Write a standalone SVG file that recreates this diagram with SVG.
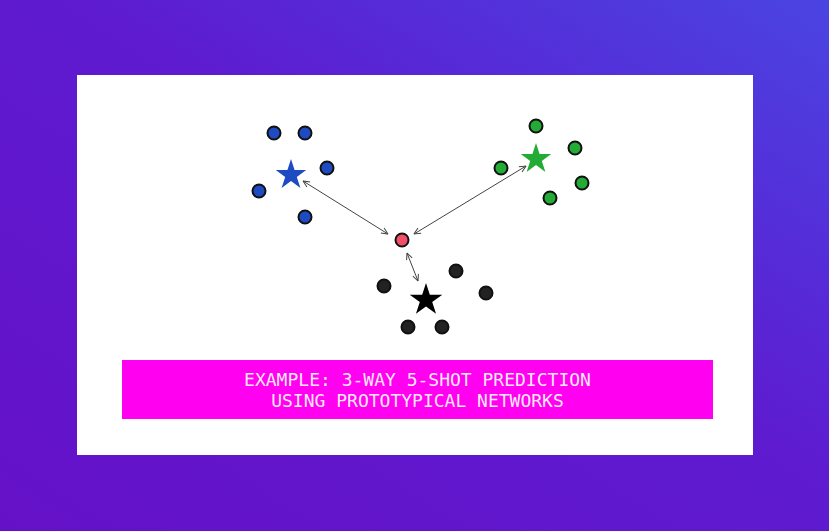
<svg xmlns="http://www.w3.org/2000/svg" width="829" height="531" viewBox="0 0 829 531">
  <defs>
    <linearGradient id="bg" x1="0" y1="1" x2="1" y2="0">
      <stop offset="0" stop-color="#6511c8"/>
      <stop offset="0.55" stop-color="#5e1bd0"/>
      <stop offset="1" stop-color="#4a44e2"/>
    </linearGradient>
    <path id="star" d="M0,-16 L3.59,-4.94 L15.22,-4.94 L5.81,1.89 L9.40,12.94 L0,6.11 L-9.40,12.94 L-5.81,1.89 L-15.22,-4.94 L-3.59,-4.94 Z"/>
    <marker id="ah" viewBox="0 0 8 8" refX="7.5" refY="4" markerWidth="8" markerHeight="8" markerUnits="userSpaceOnUse" orient="auto-start-reverse">
      <path d="M1,1 L7.5,4 L1,7" fill="none" stroke="#444" stroke-width="1"/>
    </marker>
  </defs>
  <style>
    .dot { stroke: #111; stroke-width: 2; }
    .blue { fill: #1f4bc2; }
    .green { fill: #23ab35; }
    .black { fill: #222; }
    .red { fill: #f2506a; }
    .conn { stroke: #444; stroke-width: 1; fill: none; marker-start: url(#ah); marker-end: url(#ah); }
    .cap { font-family: "DejaVu Sans Mono", "Liberation Mono", monospace; font-size: 18px; fill: #fbe8fb; text-anchor: middle; }
  </style>
  <rect width="829" height="531" fill="url(#bg)"/>
  <rect x="77" y="75" width="676" height="380" fill="#ffffff"/>

  <g id="connectors">
    <line class="conn" x1="303" y1="181" x2="388" y2="234"/>
    <line class="conn" x1="526" y1="166" x2="414" y2="234"/>
    <line class="conn" x1="407" y1="253" x2="418" y2="281"/>
  </g>

  <g id="blue-class">
    <circle class="dot blue" cx="274" cy="133" r="6.5"/>
    <circle class="dot blue" cx="305" cy="133" r="6.5"/>
    <circle class="dot blue" cx="327" cy="168" r="6.5"/>
    <circle class="dot blue" cx="259" cy="191" r="6.5"/>
    <circle class="dot blue" cx="305" cy="217" r="6.5"/>
  </g>
  <g id="blue-prototype"><use href="#star" class="blue" transform="translate(291,175)"/></g>

  <g id="green-class">
    <circle class="dot green" cx="536" cy="126" r="6.5"/>
    <circle class="dot green" cx="575" cy="148" r="6.5"/>
    <circle class="dot green" cx="501" cy="168" r="6.5"/>
    <circle class="dot green" cx="582" cy="183" r="6.5"/>
    <circle class="dot green" cx="550" cy="198" r="6.5"/>
  </g>
  <g id="green-prototype"><use href="#star" class="green" transform="translate(536,159)"/></g>

  <g id="black-class">
    <circle class="dot black" cx="456" cy="271" r="6.5"/>
    <circle class="dot black" cx="384" cy="286" r="6.5"/>
    <circle class="dot black" cx="486" cy="293" r="6.5"/>
    <circle class="dot black" cx="408" cy="327" r="6.5"/>
    <circle class="dot black" cx="442" cy="327" r="6.5"/>
  </g>
  <g id="black-prototype"><use href="#star" fill="#000" transform="translate(426,300) scale(1.07)"/></g>

  <g id="query"><circle class="dot red" cx="402" cy="240" r="6.5"/></g>

  <g id="caption">
    <rect x="122" y="360" width="591" height="59" fill="#ff00f0"/>
    <text class="cap" x="417.5" y="385.7">EXAMPLE: 3-WAY 5-SHOT PREDICTION</text>
    <text class="cap" x="417.5" y="407">USING PROTOTYPICAL NETWORKS</text>
  </g>
</svg>
